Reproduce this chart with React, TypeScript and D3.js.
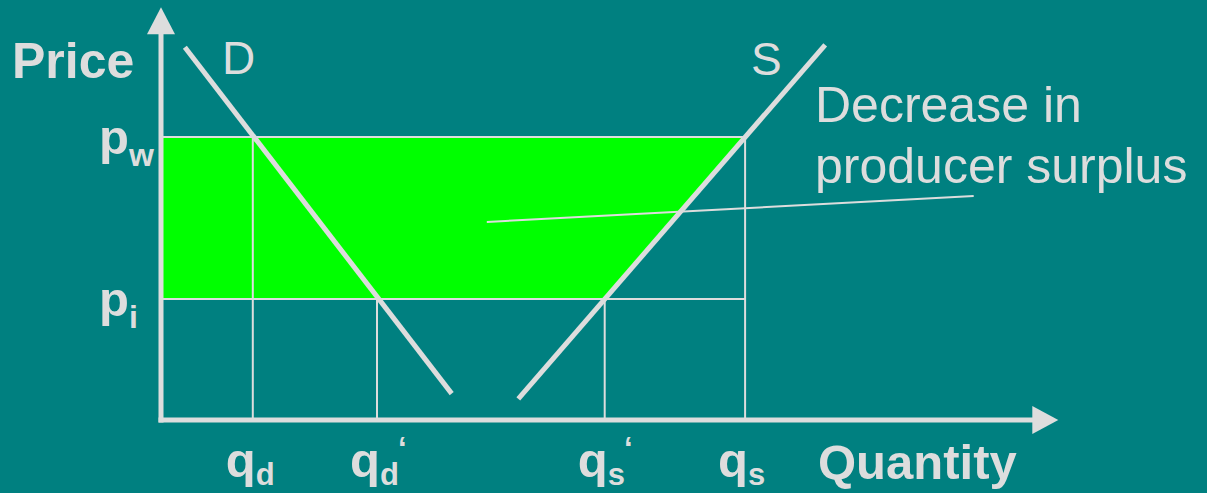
import React from "react";
import * as d3 from "d3";

// Prices
const priceLevels = [
  { key: "pw", label: "p", sub: "w", value: 70.75 },
  { key: "pi", label: "p", sub: "i", value: 30.25 },
];
// Quantities
const quantityTicks = [
  { key: "qd", label: "q", sub: "d", prime: false, value: 10.2, fromPrice: 70.75 },
  { key: "qd2", label: "q", sub: "d", prime: true, value: 24.0, fromPrice: 30.25 },
  { key: "qs2", label: "q", sub: "s", prime: true, value: 49.3, fromPrice: 30.25 },
  { key: "qs", label: "q", sub: "s", prime: false, value: 64.9, fromPrice: 70.75 },
];
// Demand and supply curves [quantity, price]
const demand: [number, number][] = [
  [2.65, 93.2],
  [32.3, 6.6],
];
const supply: [number, number][] = [
  [39.7, 5.3],
  [73.8, 93.8],
];
// Producer surplus region (quantity, price)
const surplusArea: [number, number][] = [
  [0, 70.75],
  [64.9, 70.75],
  [49.3, 30.25],
  [0, 30.25],
];
// Annotation leader [quantity, price]
const leader: [number, number][] = [
  [36.2, 49.5],
  [90.3, 56.0],
];
const annotationLines = ["Decrease in", "producer surplus"];

const W = 1207;
const H = 493;
const BG = "#008080";
const FG = "#DDDDDD";
const GREEN = "#00FF00";
const FONT = "'Liberation Sans', Arial, Helvetica, sans-serif";

export default function App() {
  const x = d3.scaleLinear().domain([0, 100]).range([161, 1061]);
  const y = d3.scaleLinear().domain([0, 100]).range([420, 20]);
  const line = d3
    .line<[number, number]>()
    .x((d) => x(d[0]))
    .y((d) => y(d[1]));

  const xAxisEnd = 99.7;
  const yAxisEnd = 103.2;

  return (
    <div style={{ position: "fixed", left: 0, top: 0, width: W, height: H }}>
      <svg width={W} height={H} style={{ display: "block", background: BG }}>
        <rect x={0} y={0} width={W} height={H} fill={BG} />
        {/* surplus area */}
        <path d={line(surplusArea) + "Z"} fill={GREEN} />
        {/* horizontal price lines */}
        {priceLevels.map((p) => (
          <line
            key={p.key}
            x1={x(0)}
            x2={x(quantityTicks[3].value)}
            y1={y(p.value)}
            y2={y(p.value)}
            stroke={FG}
            strokeWidth={2}
          />
        ))}
        {/* vertical quantity lines */}
        {quantityTicks.map((q) => (
          <line
            key={q.key}
            x1={x(q.value)}
            x2={x(q.value)}
            y1={y(q.fromPrice)}
            y2={y(0)}
            stroke={FG}
            strokeWidth={2}
          />
        ))}
        {/* axes */}
        <line x1={x(0)} x2={x(0)} y1={y(0) + 2.5} y2={y(yAxisEnd) + 20} stroke={FG} strokeWidth={5} />
        <path
          d={`M${x(0)},${y(yAxisEnd)} L${x(0) - 14},${y(yAxisEnd) + 27} L${x(0) + 14},${y(yAxisEnd) + 27} Z`}
          fill={FG}
        />
        <line x1={x(0) - 2.5} x2={x(xAxisEnd) - 20} y1={y(0)} y2={y(0)} stroke={FG} strokeWidth={5} />
        <path
          d={`M${x(xAxisEnd)},${y(0)} L${x(xAxisEnd) - 26},${y(0) - 14} L${x(xAxisEnd) - 26},${y(0) + 14} Z`}
          fill={FG}
        />
        {/* demand & supply */}
        <path d={line(demand) || ""} stroke={FG} strokeWidth={5} fill="none" />
        <path d={line(supply) || ""} stroke={FG} strokeWidth={5} fill="none" />
        {/* leader line */}
        <path d={line(leader) || ""} stroke={FG} strokeWidth={2} fill="none" />

        {/* texts */}
        <g fontFamily={FONT} fill={FG}>
          <text x={12} y={78} fontSize={50} fontWeight="bold">
            Price
          </text>
          <text x={222} y={74} fontSize={46}>
            D
          </text>
          <text x={751} y={75} fontSize={46}>
            S
          </text>
          {annotationLines.map((t, i) => (
            <text key={t} x={815} y={122 + i * 61} fontSize={50}>
              {t}
            </text>
          ))}
          <text x={818} y={479} fontSize={49} fontWeight="bold">
            Quantity
          </text>
          {priceLevels.map((p) => (
            <text key={p.key} x={99} y={y(p.value) + 17} fontSize={49} fontWeight="bold">
              {p.label}
              <tspan fontSize={32} dy={12}>
                {p.sub}
              </tspan>
            </text>
          ))}
          {quantityTicks.map((q) => (
            <text key={q.key} x={x(q.value) - 27} y={477} fontSize={49} fontWeight="bold">
              {q.label}
              <tspan fontSize={31} dy={8}>
                {q.sub}
              </tspan>
              {q.prime ? (
                <tspan fontSize={31} dy={-26} dx={-1}>
                  ‘
                </tspan>
              ) : null}
            </text>
          ))}
        </g>
      </svg>
    </div>
  );
}
